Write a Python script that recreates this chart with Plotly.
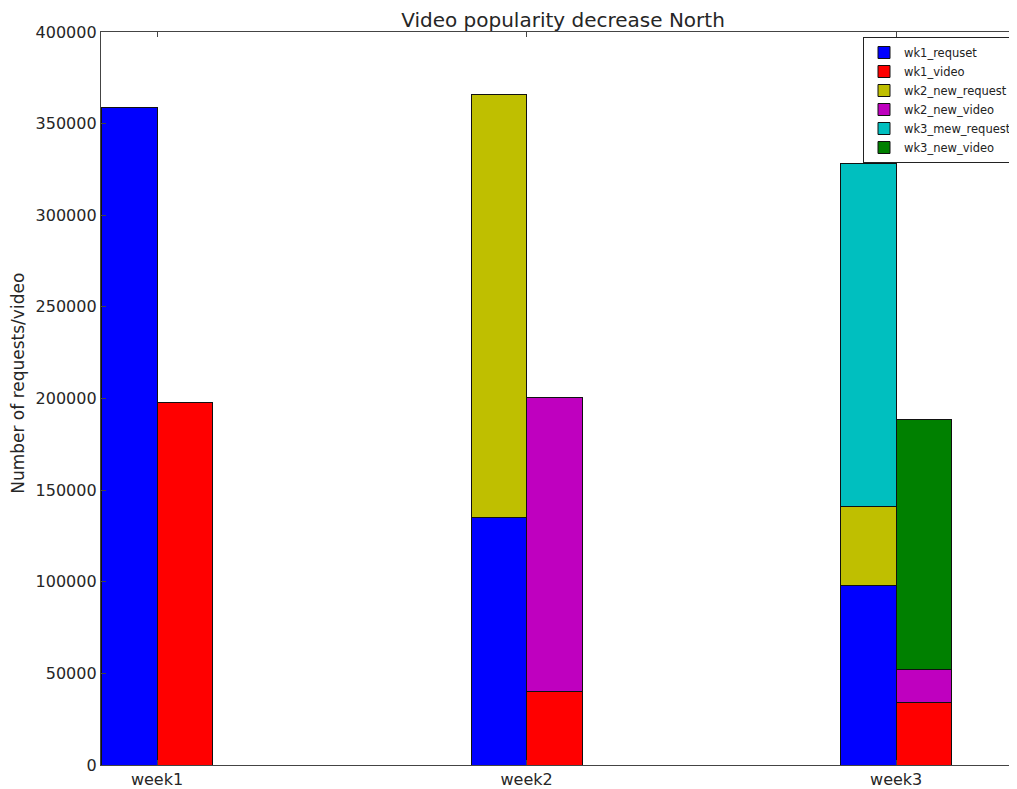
import plotly.graph_objects as go

weeks = ["week1", "week2", "week3"]
wk1_requset = [359000, 135000, 98000]
wk1_video = [198000, 40000, 34000]
wk2_new_request = [None, 231000, 43000]
wk2_new_video = [None, 160500, 18000]
wk3_mew_request = [None, None, 187000]
wk3_new_video = [None, None, 136500]

bar_w = 0.15
idx = list(range(len(weeks)))
x_req = [i - bar_w / 2 for i in idx]
x_vid = [i + bar_w / 2 for i in idx]

series = [
    ("wk1_requset", x_req, wk1_requset, "#0000ff"),
    ("wk1_video", x_vid, wk1_video, "#ff0000"),
    ("wk2_new_request", x_req, wk2_new_request, "#bfbf00"),
    ("wk2_new_video", x_vid, wk2_new_video, "#bf00bf"),
    ("wk3_mew_request", x_req, wk3_mew_request, "#00bfbf"),
    ("wk3_new_video", x_vid, wk3_new_video, "#008000"),
]

fig = go.Figure()
for name, xs, ys, col in series:
    fig.add_trace(go.Bar(
        x=xs, y=ys, name=name, width=bar_w,
        marker=dict(color=col, line=dict(color="#111111", width=1)),
    ))

# page body has an 8px margin; figure is sized/offset to compensate
OFF = 8
W, H = 1017 - OFF, 789 - OFF
ml, mr, mt = 101 - OFF, 0, 32 - OFF
mb = H - (765 - OFF)
pw = W - ml - mr
ph = H - mt - mb
fig.update_layout(
    width=W, height=H,
    barmode="stack",
    margin=dict(l=ml, r=mr, t=mt, b=mb),
    plot_bgcolor="white", paper_bgcolor="white",
    font=dict(family="DejaVu Sans", color="#262626"),
    title=dict(text="Video popularity decrease North", x=(563 - OFF) / W, xanchor="center",
               xref="container", yref="container", y=1 - (20 - OFF) / H, yanchor="middle",
               font=dict(size=20, color="#262626")),
    showlegend=True,
    legend=dict(x=(863 - 101) / pw, xanchor="left", y=(765 - 37) / ph, yanchor="top",
                bordercolor="#222222", borderwidth=1, bgcolor="white",
                traceorder="normal",
                font=dict(size=11.5, color="#222222"), tracegroupgap=0),
    xaxis=dict(range=[-0.1516, 2.327], tickvals=idx, ticktext=weeks,
               showgrid=False, zeroline=False, showline=True, linecolor="#444444",
               linewidth=1.3, mirror="ticks", ticks="inside", ticklen=5,
               tickcolor="#444444", tickfont=dict(size=16, color="#262626")),
    yaxis=dict(range=[0, 400000], dtick=50000, showgrid=False, zeroline=False,
               showline=True, linecolor="#444444", linewidth=1.3, ticks="inside",
               ticklen=5, tickcolor="#444444", tickformat="d",
               tickfont=dict(size=16, color="#262626")),
    annotations=[dict(text="Number of requests/video", textangle=-90,
                      xref="paper", yref="paper", x=(18 - 101) / pw, y=0.52,
                      xanchor="center", yanchor="middle", showarrow=False,
                      font=dict(size=17, color="#262626"))],
)

fig.write_html("out.html")
